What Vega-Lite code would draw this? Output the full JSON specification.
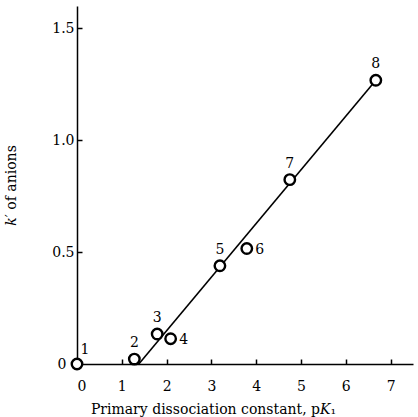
{
  "$schema": "https://vega.github.io/schema/vega-lite/v6.json",
  "width": 336,
  "height": 358,
  "autosize": {"type": "none"},
  "padding": {"left": 77, "top": 6, "right": 5, "bottom": 53},
  "background": "white",
  "config": {
    "view": {"stroke": null},
    "font": "DejaVu Serif",
    "axis": {
      "domainColor": "black",
      "domainWidth": 1.5,
      "tickColor": "black",
      "tickWidth": 1.5,
      "tickSize": -5,
      "labelColor": "black",
      "labelFont": "DejaVu Serif",
      "labelFontSize": 14,
      "titleFont": "DejaVu Serif",
      "titleFontSize": 14,
      "titleFontWeight": "normal",
      "titleColor": "black",
      "grid": false
    }
  },
  "datasets": {
    "points": [
      {"id": "1", "pK": 0.0, "k": 0.0},
      {"id": "2", "pK": 1.28, "k": 0.022},
      {"id": "3", "pK": 1.79, "k": 0.134},
      {"id": "4", "pK": 2.09, "k": 0.113},
      {"id": "5", "pK": 3.19, "k": 0.439},
      {"id": "6", "pK": 3.79, "k": 0.516},
      {"id": "7", "pK": 4.75, "k": 0.824},
      {"id": "8", "pK": 6.67, "k": 1.268}
    ],
    "fit": [
      {"pK": 1.38, "k": 0.0},
      {"pK": 6.67, "k": 1.268}
    ]
  },
  "layer": [
    {
      "data": {"name": "fit"},
      "mark": {"type": "line", "color": "black", "strokeWidth": 1.6},
      "encoding": {
        "x": {
          "field": "pK", "type": "quantitative",
          "scale": {"domain": [0, 7.5], "nice": false},
          "axis": {
            "values": [0, 1, 2, 3, 4, 5, 6, 7],
            "labelPadding": 20,
            "title": "Primary dissociation constant, p𝐾₁",
            "titleBaseline": "top",
            "titleX": 136,
            "titleY": 38
          }
        },
        "y": {
          "field": "k", "type": "quantitative",
          "scale": {"domain": [0, 1.6], "nice": false},
          "axis": {
            "values": [0, 0.5, 1, 1.5],
            "labelExpr": "datum.value == 0 ? '0' : format(datum.value, '.1f')",
            "labelPadding": {"condition": {"test": "datum.value == 0", "value": 16}, "value": 8},
            "title": "𝑘′ of anions",
            "titleX": -59
          }
        }
      }
    },
    {
      "data": {"name": "points"},
      "mark": {"type": "point", "shape": "circle", "filled": false, "fill": "white", "fillOpacity": 1, "stroke": "black", "strokeWidth": 2.4, "size": 110, "opacity": 1},
      "encoding": {
        "x": {"field": "pK", "type": "quantitative"},
        "y": {"field": "k", "type": "quantitative"}
      }
    },
    {
      "data": {"name": "points"},
      "transform": [{"filter": {"field": "id", "oneOf": ["2", "3", "5", "7", "8"]}}],
      "mark": {"type": "text", "fontSize": 14, "dy": -16, "color": "black"},
      "encoding": {
        "x": {"field": "pK", "type": "quantitative"},
        "y": {"field": "k", "type": "quantitative"},
        "text": {"field": "id"}
      }
    },
    {
      "data": {"name": "points"},
      "transform": [{"filter": {"field": "id", "oneOf": ["4", "6"]}}],
      "mark": {"type": "text", "fontSize": 14, "dx": 13, "dy": 1, "color": "black"},
      "encoding": {
        "x": {"field": "pK", "type": "quantitative"},
        "y": {"field": "k", "type": "quantitative"},
        "text": {"field": "id"}
      }
    },
    {
      "data": {"name": "points"},
      "transform": [{"filter": {"field": "id", "equal": "1"}}],
      "mark": {"type": "text", "fontSize": 14, "dx": 8, "dy": -14, "color": "black"},
      "encoding": {
        "x": {"field": "pK", "type": "quantitative"},
        "y": {"field": "k", "type": "quantitative"},
        "text": {"field": "id"}
      }
    }
  ]
}
